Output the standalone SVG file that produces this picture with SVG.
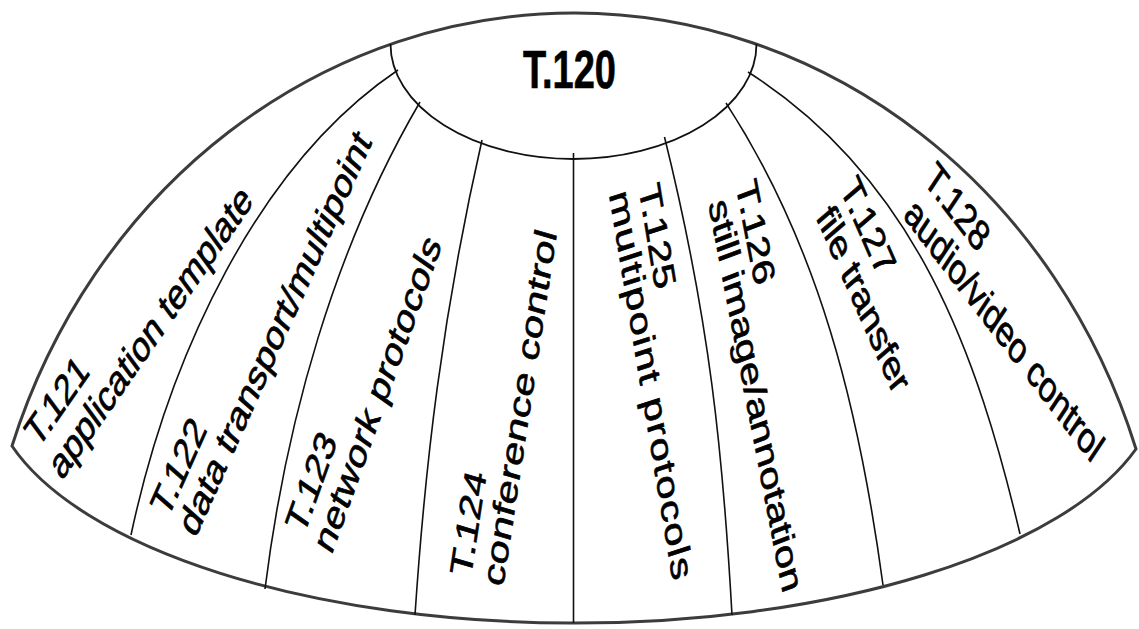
<svg xmlns="http://www.w3.org/2000/svg" width="1139" height="629" viewBox="0 0 1139 629">
<style>
.outer{fill:#fff;stroke:#3c3c3c;stroke-width:3;stroke-linejoin:miter}
.div{fill:none;stroke:#111;stroke-width:1.6}
.ell{fill:none;stroke:#111;stroke-width:1.8}
.lbl{font-family:"Liberation Sans",Arial,Helvetica,sans-serif;font-size:31px;fill:#000;stroke:#000;stroke-width:0.6}
.title{font-family:"Liberation Sans",Arial,Helvetica,sans-serif;font-size:38px;font-weight:bold;fill:#000;stroke:#000;stroke-width:0.5}
</style>
<rect width="1139" height="629" fill="#fff"/>
<g id="dome">
<path class="outer" d="M12,446 A593,638 0 0 1 1136,449 A585,243 0 0 1 12,446 Z"/>
</g>
<g id="connectors">
<path class="div" d="M398,70 C257,165 169,357 131,535"/>
<path class="div" d="M420,102 C334,249 286,421 265,589"/>
<path class="div" d="M482,140 C442,316 425,466 415,615"/>
<path class="div" d="M573.5,153 L573.5,623"/>
<path class="div" d="M664.5,137 C710,321 723,455 732,615"/>
<path class="div" d="M726,103 C818.5,245.6 858.7,405.6 883,585"/>
<path class="div" d="M748,72 C916.8,179.4 978.2,356.9 1020,534"/>
</g>
<g id="t120">
<path class="ell" d="M390.5,44 A183,115 0 0 0 756.5,44"/>
<text class="title" text-anchor="middle" transform="scale(1,1.4)" x="569.5" y="62.9">T.120</text>
</g>
<g id="t121">
<g transform="scale(1,1.4) translate(61.75,343.9) rotate(-46)">
<text class="lbl" x="0" y="-33">T.121</text>
<text class="lbl" x="0" y="0" textLength="277">application template</text>
</g>
</g>
<g id="t122">
<g transform="scale(1,1.4) translate(195.3,385.2) rotate(-58)">
<text class="lbl" x="-3" y="-31">T.122</text>
<text class="lbl" x="0" y="0" textLength="334">data transport/multipoint</text>
</g>
</g>
<g id="t123">
<g transform="scale(1,1.4) translate(331.6,397) rotate(-63.5)">
<text class="lbl" x="0" y="-31">T.123</text>
<text class="lbl" x="0" y="0" textLength="248">network protocols</text>
</g>
</g>
<g id="t124">
<g transform="scale(1,1.4) translate(503,420) rotate(-78)">
<text class="lbl" x="0" y="-33">T.124</text>
<text class="lbl" x="0" y="0" textLength="259">conference control</text>
</g>
</g>
<g id="t125">
<g transform="scale(1,1.4) translate(608.9,138.9) rotate(77)">
<text class="lbl" x="2" y="-30">T.125</text>
<text class="lbl" x="0" y="0" textLength="284">multipoint protocols</text>
</g>
</g>
<g id="t126">
<g transform="scale(1,1.4) translate(708.2,145.6) rotate(75)">
<text class="lbl" x="-6" y="-30">T.126</text>
<text class="lbl" x="0" y="0" textLength="289">still image/annotation</text>
</g>
</g>
<g id="t127">
<g transform="scale(1,1.4) translate(815.6,155.3) rotate(58.5)">
<text class="lbl" x="-5" y="-31">T.127</text>
<text class="lbl" x="0" y="0" textLength="150">file transfer</text>
</g>
</g>
<g id="t128">
<g transform="scale(1,1.4) translate(902.5,154.8) rotate(43)">
<text class="lbl" x="-2.6" y="-32">T.128</text>
<text class="lbl" x="0" y="0" textLength="259">audio/video control</text>
</g>
</g>
</svg>
